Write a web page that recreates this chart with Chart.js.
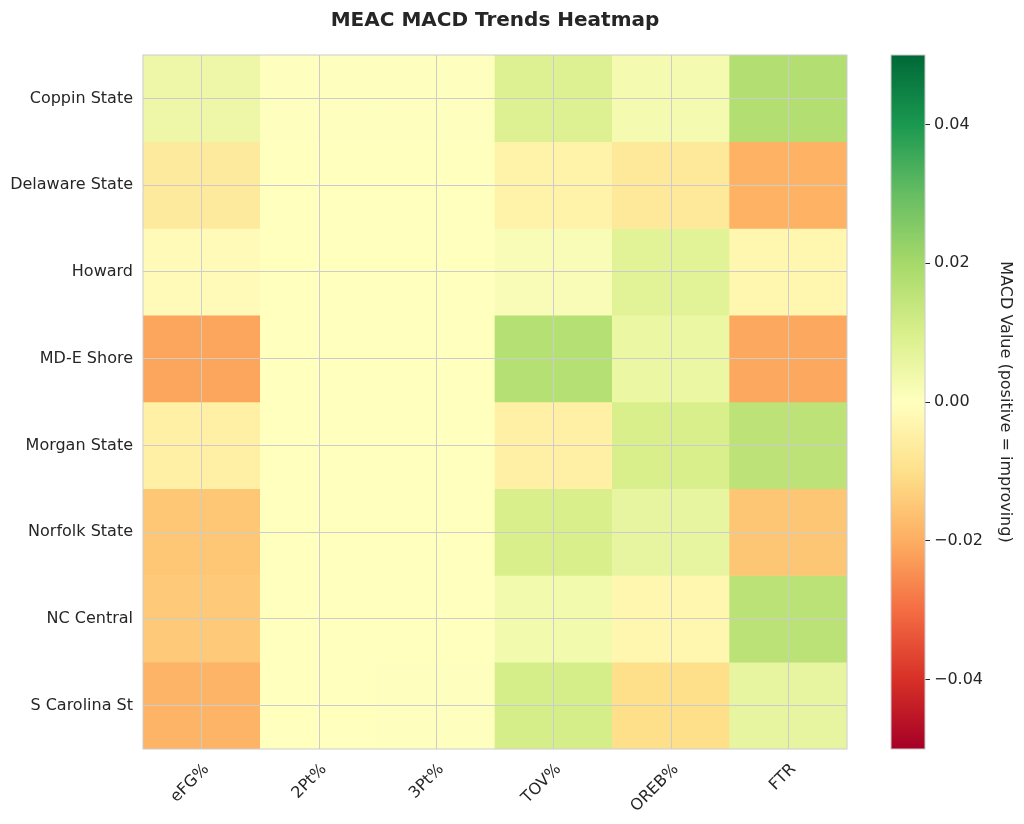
<!DOCTYPE html>
<html>
<head>
<meta charset="utf-8">
<script src="https://cdn.jsdelivr.net/npm/chart.js@4.4.1/dist/chart.umd.min.js"></script>
<style>
    html, body { margin: 0; padding: 0; background: #ffffff; }
    #marco { position: relative; width: 1024px; height: 824px; }
    #heatmap { position: absolute; left: 0; top: 0; }
    #barraColor { position: absolute; left: 860px; top: 0; }
</style>
</head>
<body>
<div id="marco">
    <canvas id="heatmap" width="990" height="824"></canvas>
    <canvas id="barraColor" width="164" height="824"></canvas>
</div>
<script>
// equipos (filas) y metricas (columnas)
const equipos = ['Coppin State', 'Delaware State', 'Howard', 'MD-E Shore', 'Morgan State', 'Norfolk State', 'NC Central', 'S Carolina St'];
const metricas = ['eFG%', '2Pt%', '3Pt%', 'TOV%', 'OREB%', 'FTR'];

// valor MACD por metrica, en el orden de equipos
const efg     = [0.0047, -0.0068, -0.0016, -0.0214, -0.0048, -0.0150, -0.0146, -0.0188];
const twoPt   = [0.0002, 0.0001, 0.0001, 0.0001, 0.0001, 0.0001, 0.0001, 0.0001];
const threePt = [0.0002, 0.0001, 0.0001, 0.0001, 0.0001, 0.0001, 0.0001, 0.0002];
const tov     = [0.0087, -0.0042, 0.0018, 0.0170, -0.0048, 0.0100, 0.0034, 0.0105];
const oreb    = [0.0030, -0.0071, 0.0076, 0.0053, 0.0100, 0.0060, -0.0030, -0.0100];
const ftr     = [0.0176, -0.0192, -0.0030, -0.0208, 0.0157, -0.0152, 0.0160, 0.0060];

const columnas = [efg, twoPt, threePt, tov, oreb, ftr];

// escala de color
const vMin = -0.05;
const vMax = 0.05;
const ticksBarra = [-0.04, -0.02, 0.00, 0.02, 0.04];

// RdYlGn
const paleta = [
    [165, 0, 38], [215, 48, 39], [244, 109, 67], [253, 174, 97], [254, 224, 139],
    [255, 255, 191], [217, 239, 139], [166, 217, 106], [102, 189, 99], [26, 152, 80], [0, 104, 55]
];

function colorDe(valor) {
    let t = (valor - vMin) / (vMax - vMin);
    t = Math.max(0, Math.min(1, t));
    let pos = t * (paleta.length - 1);
    let i = Math.min(Math.floor(pos), paleta.length - 2);
    let f = pos - i;
    let a = paleta[i], b = paleta[i + 1];
    let c = a.map((v, k) => Math.round(v + (b[k] - v) * f));
    return 'rgb(' + c.join(',') + ')';
}

const gris = '#cccccc';
const texto = '#262626';
const fuente = "'DejaVu Sans', sans-serif";

// marco alrededor del area del grafico
const marcoPlugin = {
    id: 'marco',
    afterDraw(chart) {
        const {ctx, chartArea: a} = chart;
        ctx.save();
        ctx.strokeStyle = gris;
        ctx.lineWidth = 1;
        ctx.strokeRect(a.left, a.top, a.right - a.left, a.bottom - a.top);
        ctx.restore();
    }
};

// una serie por fila: cada celda es una barra flotante [fila, fila+1]
let series = equipos.map((equipo, fila) => ({
    label: equipo,
    data: metricas.map(() => [fila, fila + 1]),
    backgroundColor: columnas.map(col => colorDe(col[fila])),
    borderWidth: 0,
    barPercentage: 1,
    categoryPercentage: 1,
    grouped: false
}));

new Chart(document.getElementById('heatmap'), {
    type: 'bar',
    data: { labels: metricas, datasets: series },
    plugins: [marcoPlugin],
    options: {
        responsive: false,
        animation: false,
        layout: { padding: 0 },
        plugins: {
            legend: { display: false },
            tooltip: { enabled: false },
            title: {
                display: true,
                text: 'MEAC MACD Trends Heatmap',
                color: texto,
                font: { family: fuente, size: 20, weight: 'bold' },
                padding: { top: 9, bottom: 22 }
            }
        },
        scales: {
            x: {
                offset: true,
                grid: { color: gris, offset: false, drawTicks: false, z: 1 },
                border: { display: false },
                ticks: {
                    color: texto,
                    font: { family: fuente, size: 16 },
                    maxRotation: 45,
                    minRotation: 45,
                    padding: 11,
                    labelOffset: 5
                },
                afterFit(scale) { scale.height = 75; }
            },
            y: {
                reverse: true,
                min: 0,
                max: equipos.length,
                grid: { color: gris, drawTicks: false, z: 1 },
                border: { display: false },
                ticks: {
                    color: texto,
                    font: { family: fuente, size: 16 },
                    padding: 10,
                    callback: (v, i) => equipos[i]
                },
                afterBuildTicks(scale) {
                    scale.ticks = equipos.map((e, i) => ({ value: i + 0.5 }));
                },
                afterFit(scale) { scale.width = 143; }
            },
            // eje vacio a la derecha para centrar el titulo sobre el mapa
            derecha: {
                type: 'linear',
                position: 'right',
                grid: { display: false },
                border: { display: false },
                ticks: { display: false },
                afterFit(scale) { scale.width = 143; }
            }
        }
    }
});

// barra de color
new Chart(document.getElementById('barraColor'), {
    type: 'bar',
    data: {
        labels: [''],
        datasets: [{
            data: [[vMin, vMax]],
            barPercentage: 1,
            categoryPercentage: 1,
            borderWidth: 0,
            backgroundColor(c) {
                const area = c.chart.chartArea;
                if (!area) return null;
                const g = c.chart.ctx.createLinearGradient(0, area.bottom, 0, area.top);
                paleta.forEach((p, i) => g.addColorStop(i / (paleta.length - 1), 'rgb(' + p.join(',') + ')'));
                return g;
            }
        }]
    },
    plugins: [marcoPlugin],
    options: {
        responsive: false,
        animation: false,
        layout: { padding: { left: 31, right: 0, top: 55, bottom: 75 } },
        plugins: { legend: { display: false }, tooltip: { enabled: false } },
        scales: {
            x: { display: false },
            y: {
                position: 'right',
                min: vMin,
                max: vMax,
                grid: { drawOnChartArea: false, color: texto, tickLength: 5 },
                border: { display: false },
                ticks: {
                    color: texto,
                    font: { family: fuente, size: 16 },
                    padding: 4,
                    callback: v => (v < 0 ? '\u2212' : '') + Math.abs(v).toFixed(2)
                },
                afterBuildTicks(scale) {
                    scale.ticks = ticksBarra.map(v => ({ value: v }));
                },
                title: {
                    display: true,
                    text: 'MACD Value (positive = improving)',
                    color: texto,
                    font: { family: fuente, size: 16 },
                    padding: { top: 9, bottom: 4 }
                },
                afterFit(scale) { scale.width = 99; }
            }
        }
    }
});
</script>
</body>
</html>
